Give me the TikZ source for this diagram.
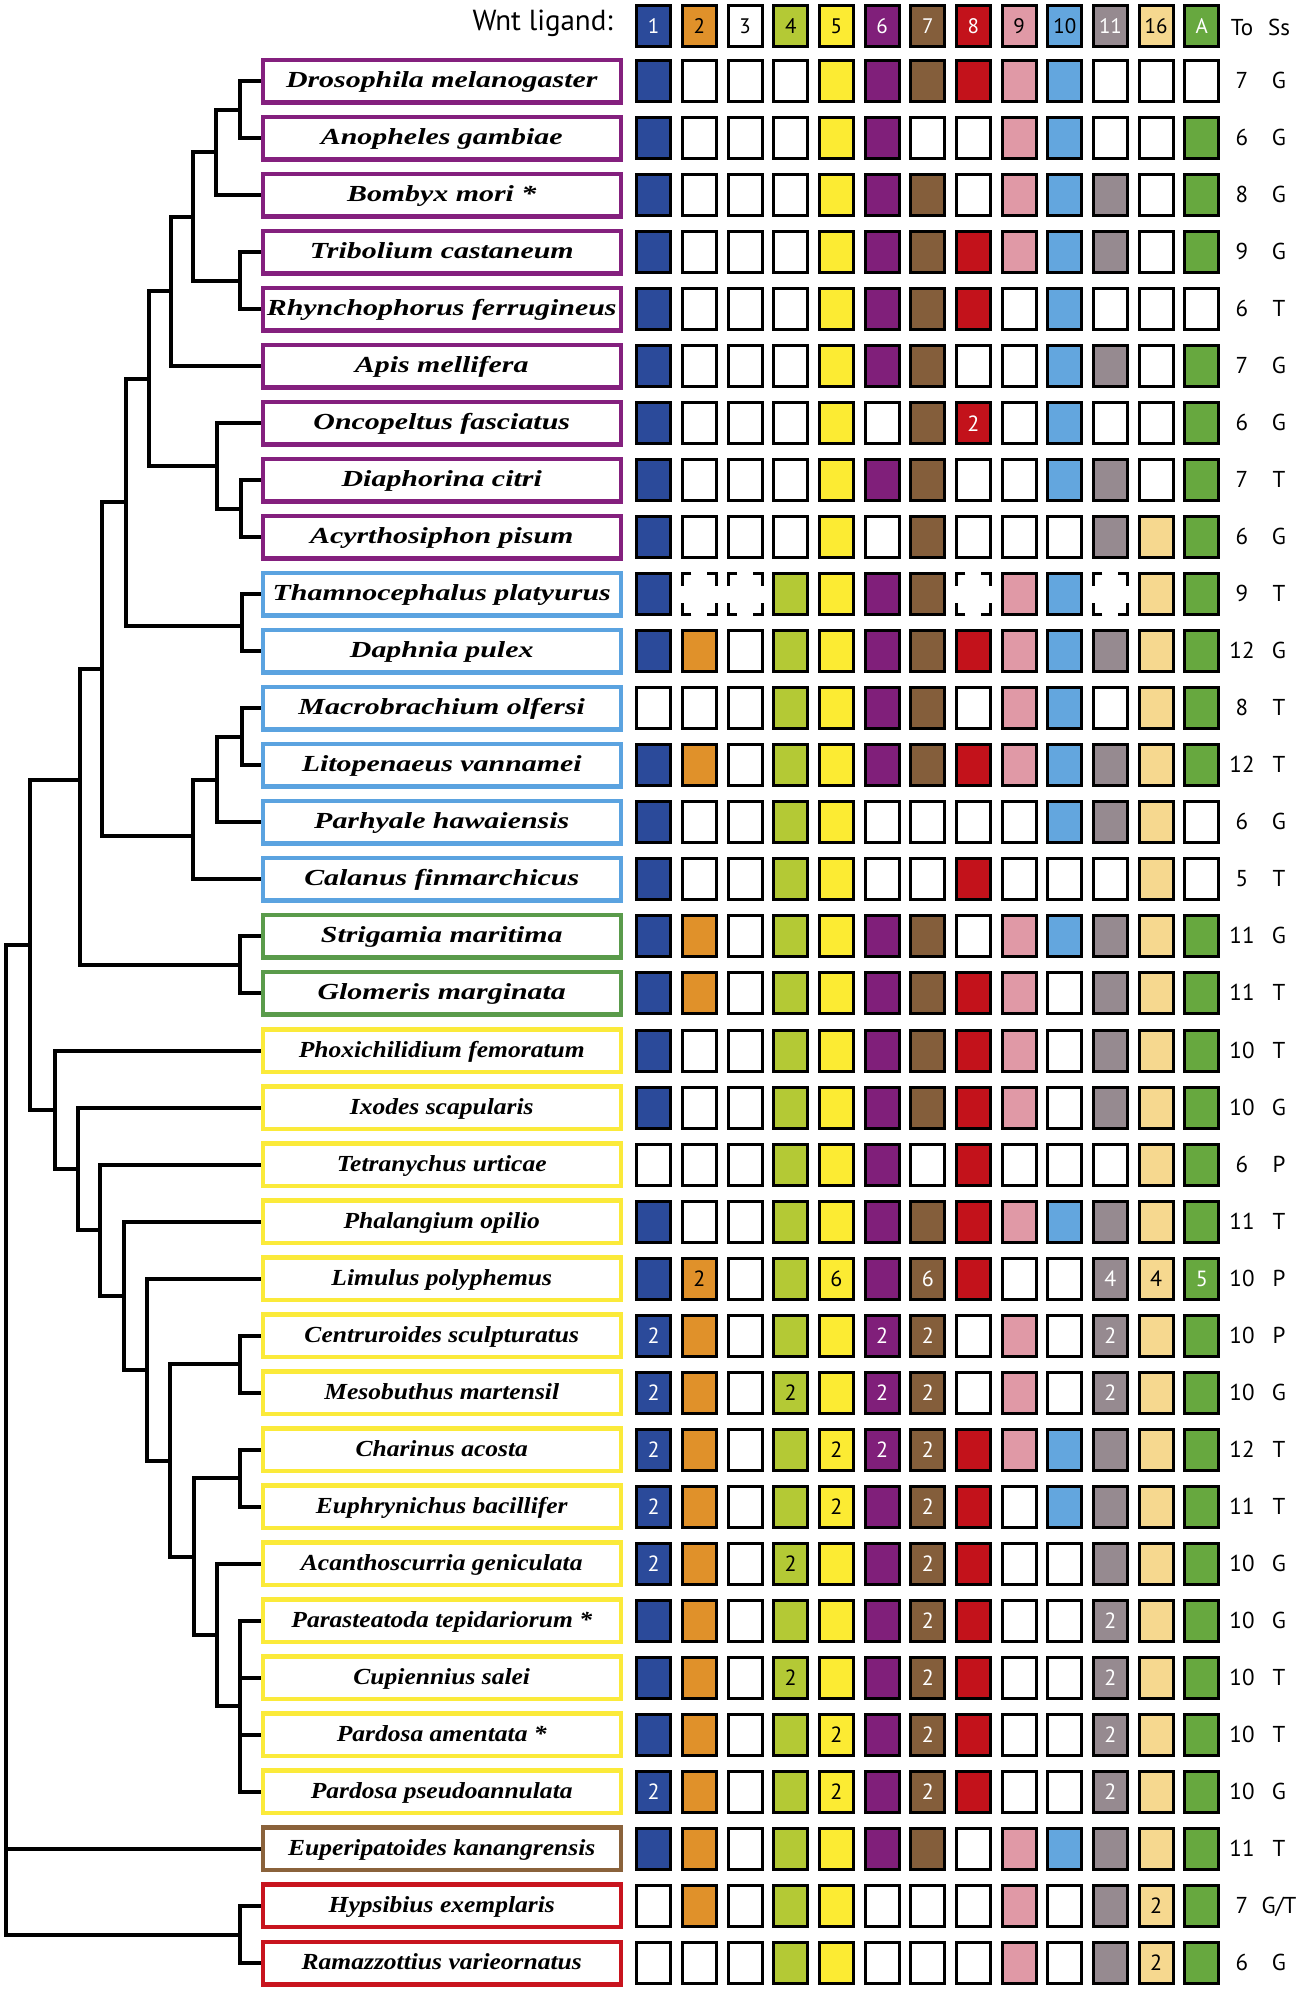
\documentclass[tikz,border=0pt]{standalone}
\usepackage{fontspec}
\newfontfamily\namefont{Liberation Serif}[FakeStretch=1.3]
\newfontfamily\namefontb{Liberation Serif}[FakeStretch=1.11]
\newfontfamily\labfont{PT Sans}
\definecolor{col1}{HTML}{2B4A9A}\definecolor{tcol1}{HTML}{FFFFFF}
\definecolor{col2}{HTML}{E0912A}\definecolor{tcol2}{HTML}{000000}
\definecolor{col3}{HTML}{FFFFFF}\definecolor{tcol3}{HTML}{000000}
\definecolor{col4}{HTML}{B4C935}\definecolor{tcol4}{HTML}{000000}
\definecolor{col5}{HTML}{FCEB33}\definecolor{tcol5}{HTML}{000000}
\definecolor{col6}{HTML}{801F7A}\definecolor{tcol6}{HTML}{FFFFFF}
\definecolor{col7}{HTML}{845E3B}\definecolor{tcol7}{HTML}{FFFFFF}
\definecolor{col8}{HTML}{C3121B}\definecolor{tcol8}{HTML}{FFFFFF}
\definecolor{col9}{HTML}{E099A6}\definecolor{tcol9}{HTML}{000000}
\definecolor{col10}{HTML}{63A6DE}\definecolor{tcol10}{HTML}{000000}
\definecolor{col11}{HTML}{968A90}\definecolor{tcol11}{HTML}{FFFFFF}
\definecolor{col12}{HTML}{F6D88F}\definecolor{tcol12}{HTML}{000000}
\definecolor{col13}{HTML}{67A83F}\definecolor{tcol13}{HTML}{FFFFFF}
\definecolor{bpur}{HTML}{84207E}
\definecolor{bblu}{HTML}{5BA3E0}
\definecolor{bgrn}{HTML}{5A9B4B}
\definecolor{byel}{HTML}{FBEA3A}
\definecolor{bbrn}{HTML}{8A623B}
\definecolor{bred}{HTML}{C8141E}
\def\tokZ{0}\def\tokO{1}\def\tokD{d}
\begin{document}
\begin{tikzpicture}[x=1pt,y=-1pt,
  namebox/.style={draw=#1, line width=4.5pt, minimum width=358pt, minimum height=42.5pt,
    inner sep=0pt, fill=white, text height=18pt, text depth=5pt},
  wideface/.style={font=\namefont\bfseries\itshape\fontsize{23}{27}\selectfont},
  narrowface/.style={font=\namefontb\bfseries\itshape\fontsize{23}{27}\selectfont},
  cell/.style={draw=black, line width=3pt, minimum width=34pt, minimum height=41pt,
    inner sep=0pt, outer sep=0pt, font=\labfont\fontsize{22}{24}\selectfont},
  tree/.style={line width=4pt, black},
  colnum/.style={font=\labfont\fontsize{23}{26}\selectfont, anchor=base, inner sep=0pt}
]
\fill[white] (0,0) rectangle (1301,1990);
\useasboundingbox (0,0) rectangle (1301,1990);

% header
\node[anchor=base east, inner sep=0pt, font=\labfont\fontsize{29}{32}\selectfont] (wnt) at (613,30) {Wnt ligand:};
\foreach \lab [count=\kk] in {1,2,3,4,5,6,7,8,9,10,11,16,A} {
  \pgfmathsetmacro\cx{653.7+45.675*(\kk-1)}
  \node[cell, fill=col\kk, text=tcol\kk, font=\labfont\fontsize{21}{23}\selectfont] (h\kk) at (\cx,26) {\lab};
}
\node[colnum] (hto) at (1242,35) {To};
\node[colnum] (hss) at (1279,35) {Ss};

% rows
\foreach \i/\nm/\bc/\dat/\tov/\ssv in {
 1/Drosophila melanogaster/bpur/{1,0,0,0,1,1,1,1,1,1,0,0,0}/7/G,
 2/Anopheles gambiae/bpur/{1,0,0,0,1,1,0,0,1,1,0,0,1}/6/G,
 3/Bombyx mori */bpur/{1,0,0,0,1,1,1,0,1,1,1,0,1}/8/G,
 4/Tribolium castaneum/bpur/{1,0,0,0,1,1,1,1,1,1,1,0,1}/9/G,
 5/Rhynchophorus ferrugineus/bpur/{1,0,0,0,1,1,1,1,0,1,0,0,0}/6/T,
 6/Apis mellifera/bpur/{1,0,0,0,1,1,1,0,0,1,1,0,1}/7/G,
 7/Oncopeltus fasciatus/bpur/{1,0,0,0,1,0,1,2,0,1,0,0,1}/6/G,
 8/Diaphorina citri/bpur/{1,0,0,0,1,1,1,0,0,1,1,0,1}/7/T,
 9/Acyrthosiphon pisum/bpur/{1,0,0,0,1,0,1,0,0,0,1,1,1}/6/G,
 10/Thamnocephalus platyurus/bblu/{1,d,d,1,1,1,1,d,1,1,d,1,1}/9/T,
 11/Daphnia pulex/bblu/{1,1,0,1,1,1,1,1,1,1,1,1,1}/12/G,
 12/Macrobrachium olfersi/bblu/{0,0,0,1,1,1,1,0,1,1,0,1,1}/8/T,
 13/Litopenaeus vannamei/bblu/{1,1,0,1,1,1,1,1,1,1,1,1,1}/12/T,
 14/Parhyale hawaiensis/bblu/{1,0,0,1,1,0,0,0,0,1,1,1,0}/6/G,
 15/Calanus finmarchicus/bblu/{1,0,0,1,1,0,0,1,0,0,0,1,0}/5/T,
 16/Strigamia maritima/bgrn/{1,1,0,1,1,1,1,0,1,1,1,1,1}/11/G,
 17/Glomeris marginata/bgrn/{1,1,0,1,1,1,1,1,1,0,1,1,1}/11/T,
 18/Phoxichilidium femoratum/byel/{1,0,0,1,1,1,1,1,1,0,1,1,1}/10/T,
 19/Ixodes scapularis/byel/{1,0,0,1,1,1,1,1,1,0,1,1,1}/10/G,
 20/Tetranychus urticae/byel/{0,0,0,1,1,1,0,1,0,0,0,1,1}/6/P,
 21/Phalangium opilio/byel/{1,0,0,1,1,1,1,1,1,1,1,1,1}/11/T,
 22/Limulus polyphemus/byel/{1,2,0,1,6,1,6,1,0,0,4,4,5}/10/P,
 23/Centruroides sculpturatus/byel/{2,1,0,1,1,2,2,0,1,0,2,1,1}/10/P,
 24/Mesobuthus martensil/byel/{2,1,0,2,1,2,2,0,1,0,2,1,1}/10/G,
 25/Charinus acosta/byel/{2,1,0,1,2,2,2,1,1,1,1,1,1}/12/T,
 26/Euphrynichus bacillifer/byel/{2,1,0,1,2,1,2,1,0,1,1,1,1}/11/T,
 27/Acanthoscurria geniculata/byel/{2,1,0,2,1,1,2,1,0,0,1,1,1}/10/G,
 28/Parasteatoda tepidariorum */byel/{1,1,0,1,1,1,2,1,0,0,2,1,1}/10/G,
 29/Cupiennius salei/byel/{1,1,0,2,1,1,2,1,0,0,2,1,1}/10/T,
 30/Pardosa amentata */byel/{1,1,0,1,2,1,2,1,0,0,2,1,1}/10/T,
 31/Pardosa pseudoannulata/byel/{2,1,0,1,2,1,2,1,0,0,2,1,1}/10/G,
 32/Euperipatoides kanangrensis/bbrn/{1,1,0,1,1,1,1,0,1,1,1,1,1}/11/T,
 33/Hypsibius exemplaris/bred/{0,1,0,1,1,0,0,0,1,0,1,2,1}/7/{G/T},
 34/Ramazzottius varieornatus/bred/{0,0,0,1,1,0,0,0,1,0,1,2,1}/6/G} {
  \pgfmathsetmacro\cy{81+57.03*(\i-1)}
  \ifnum\i<18 \def\face{wideface}\else\def\face{narrowface}\fi
  \node[namebox=\bc, \face] (b\i) at (441.75,\cy) {\nm};
  \foreach \vv [count=\kk] in \dat {
    \pgfmathsetmacro\cx{653.7+45.675*(\kk-1)}
    \edef\cur{\vv}
    \ifx\cur\tokZ
      \node[cell, fill=white] (c\i-\kk) at (\cx,\cy) {};
    \else\ifx\cur\tokD
      \node[cell, draw=none, fill=white] (c\i-\kk) at (\cx,\cy) {};
      \draw[line width=3pt] ([xshift=9pt]c\i-\kk.north west) -- (c\i-\kk.north west) -- ([yshift=-12pt]c\i-\kk.north west);
      \draw[line width=3pt] ([xshift=-9pt]c\i-\kk.north east) -- (c\i-\kk.north east) -- ([yshift=-12pt]c\i-\kk.north east);
      \draw[line width=3pt] ([xshift=9pt]c\i-\kk.south west) -- (c\i-\kk.south west) -- ([yshift=12pt]c\i-\kk.south west);
      \draw[line width=3pt] ([xshift=-9pt]c\i-\kk.south east) -- (c\i-\kk.south east) -- ([yshift=12pt]c\i-\kk.south east);
    \else\ifx\cur\tokO
      \node[cell, fill=col\kk] (c\i-\kk) at (\cx,\cy) {};
    \else
      \node[cell, fill=col\kk, text=tcol\kk] (c\i-\kk) at (\cx,\cy) {\vv};
    \fi\fi\fi
  }
  \node[colnum] (to\i) at (1242,\cy+7.5) {\tov};
  \node[colnum] (ss\i) at (1279,\cy+7.5) {\ssv};
}

% tree nodes
\coordinate (nA) at (240,109.5);
\coordinate (nB) at (216,152.3);
\coordinate (nC) at (240,280.6);
\coordinate (nD) at (193,216.5);
\coordinate (nE) at (171,291.3);
\coordinate (nF) at (241,508.7);
\coordinate (nG) at (217,466);
\coordinate (nH) at (148.5,378.6);
\coordinate (nJ) at (242,626);
\coordinate (nI) at (126,502.3);
\coordinate (nL) at (242,736.8);
\coordinate (nM) at (216.6,779.6);
\coordinate (nN) at (193,836);
\coordinate (nK) at (101.7,669.2);
\coordinate (nP) at (240,965);
\coordinate (nO) at (79.7,780);
\coordinate (nY) at (240,1364.2);
\coordinate (nZ) at (240,1478.2);
\coordinate (nCC) at (240,1706.4);
\coordinate (nBB) at (216.6,1635.1);
\coordinate (nAA) at (194,1556.7);
\coordinate (nX) at (170,1460.5);
\coordinate (nW) at (147.3,1369.6);
\coordinate (nV) at (123.6,1295.6);
\coordinate (nU) at (99.6,1230);
\coordinate (nT) at (78,1168.8);
\coordinate (nS) at (55,1109.7);
\coordinate (nQ) at (30,945);
\coordinate (nDD) at (240,1934.5);
\coordinate (root) at (6,1440);

% tree edges
\foreach \p/\c in {nA/b1, nA/b2, nB/nA, nB/b3, nC/b4, nC/b5, nD/nB, nD/nC, nE/nD, nE/b6,
  nF/b8, nF/b9, nG/b7, nG/nF, nH/nE, nH/nG, nJ/b10, nJ/b11, nI/nH, nI/nJ,
  nL/b12, nL/b13, nM/nL, nM/b14, nN/nM, nN/b15, nK/nI, nK/nN, nP/b16, nP/b17,
  nO/nK, nO/nP, nY/b23, nY/b24, nZ/b25, nZ/b26, nCC/b28, nCC/b29, nCC/b30, nCC/b31,
  nBB/b27, nBB/nCC, nAA/nZ, nAA/nBB, nX/nY, nX/nAA, nW/b22, nW/nX, nV/b21, nV/nW,
  nU/b20, nU/nV, nT/b19, nT/nU, nS/b18, nS/nT, nQ/nO, nQ/nS, nDD/b33, nDD/b34,
  root/nQ, root/b32, root/nDD} {
  \draw[tree] (\p) |- (\c);
}
\end{tikzpicture}
\end{document}
